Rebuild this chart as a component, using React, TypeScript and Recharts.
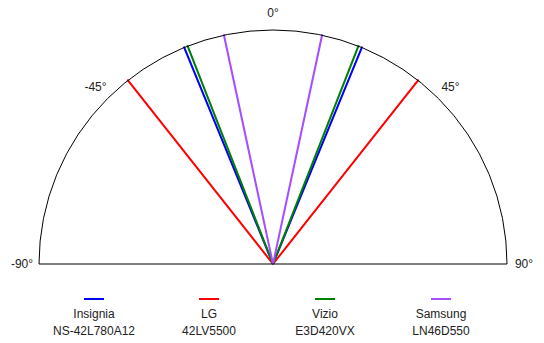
import React from 'react'
import { PieChart, Pie, Legend } from 'recharts'

// viewing angle (degrees from straight-on, negative = left)
const brands = ['Insignia', 'LG', 'Vizio', 'Samsung']
const models = ['NS-42L780A12', '42LV5500', 'E3D420VX', 'LN46D550']
const leftAngles = [-22.3, -38.3, -21.4, -12.1]
const rightAngles = [22.3, 38.3, 21.4, 12.1]
const COLORS = ['#0000ff', '#ff0000', '#008000', '#a64dff']

const tickLabels = ['-90°', '-45°', '0°', '45°', '90°']
const legendCenters = [94, 209, 325, 441]

const CX = 273
const CY = 264
const R = 234
const RAD = Math.PI / 180
const FONT = '"Liberation Sans", Arial, Helvetica, sans-serif'

const renderTick = (props: any) => {
  const { cx, cy, midAngle, outerRadius, index } = props
  const r = outerRadius + 17
  const x = cx + r * Math.cos(-midAngle * RAD)
  const y = cy + r * Math.sin(-midAngle * RAD)
  return (
    <text
      x={x}
      y={y}
      textAnchor="middle"
      dominantBaseline="central"
      fontFamily={FONT}
      fontSize={12}
      fill="#222"
    >
      {tickLabels[index]}
    </text>
  )
}

const renderLegend = () => (
  <div style={{ position: 'relative', width: 544, height: 55, fontFamily: FONT, fontSize: 12, color: '#222' }}>
    {brands.map((b, i) => (
      <div
        key={b}
        style={{ position: 'absolute', left: legendCenters[i] - 60, top: 0, width: 120, textAlign: 'center' }}
      >
        <div style={{ width: 20, height: 2, background: COLORS[i], margin: '10px auto 6px' }} />
        <div style={{ lineHeight: '17px' }}>{b}</div>
        <div style={{ lineHeight: '17px' }}>{models[i]}</div>
      </div>
    ))}
  </div>
)

export default function App() {
  return (
    <div style={{ position: 'absolute', left: 0, top: 0 }}>
      <PieChart width={544} height={343} margin={{ top: 0, right: 0, bottom: 0, left: 0 }}>
        {/* angle tick labels: invisible 45° slices, label sits at each slice's middle */}
        <Pie
          data={tickLabels.map((t) => ({ name: t, value: 1 }))}
          dataKey="value"
          cx={CX}
          cy={CY}
          startAngle={202.5}
          endAngle={-22.5}
          outerRadius={R}
          fill="none"
          stroke="none"
          label={renderTick}
          labelLine={false}
          isAnimationActive={false}
        />
        {/* each viewing-angle ray is a hair-thin slice */}
        {brands.map((b, i) =>
          [leftAngles[i], rightAngles[i]].map((a, j) => (
            <Pie
              key={`${b}-${j}`}
              data={[{ name: b, value: 1 }]}
              dataKey="value"
              cx={CX}
              cy={CY}
              startAngle={90 - a}
              endAngle={90 - a - 0.01}
              outerRadius={R}
              fill="none"
              stroke={COLORS[i]}
              strokeWidth={2}
              isAnimationActive={false}
            />
          ))
        )}
        {/* half-circle frame */}
        <Pie
          data={[{ name: 'frame', value: 1 }]}
          dataKey="value"
          cx={CX}
          cy={CY}
          startAngle={180}
          endAngle={0}
          outerRadius={R}
          fill="none"
          stroke="#000"
          strokeWidth={1}
          isAnimationActive={false}
        />
        <Legend content={renderLegend} wrapperStyle={{ left: 0, top: 288, bottom: 'auto', width: 544 }} />
      </PieChart>
    </div>
  )
}
